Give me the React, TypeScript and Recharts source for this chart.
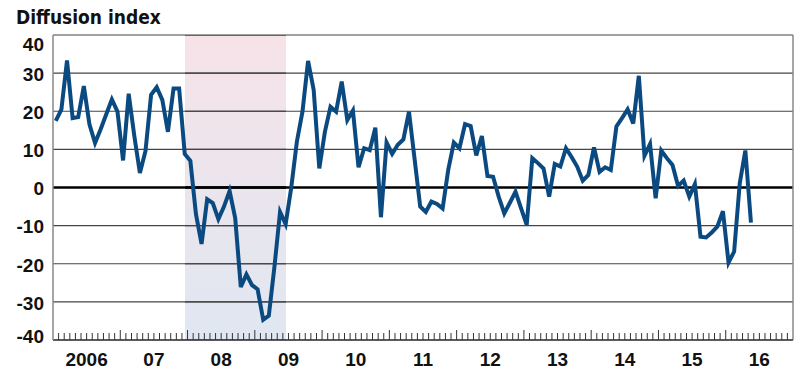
import {
  LineChart,
  Line,
  XAxis,
  YAxis,
  CartesianGrid,
  ReferenceLine,
} from "recharts";

// Monthly diffusion index, Jan 2006 onward
const startYear = 2006;
const values = [
  17.5, 20.5, 33.3, 18.2, 18.5, 26.6, 16.6, 11.7, 15.3, 19.2, 23.1, 19.9,
  7.1, 24.6, 13.6, 3.8, 9.6, 24.3, 26.3, 23, 14.6, 26, 26, 8.8,
  7, -7, -14.8, -3.1, -4.1, -8.3, -5, -0.9, -8, -26.1, -22.8, -25.6,
  -26.7, -34.7, -33.6, -20.8, -6.4, -9.6, 0, 12, 19.9, 33.2, 25.6, 5,
  14.6, 21.2, 19.9, 27.8, 17.7, 20.2, 5.3, 10.3, 9.8, 15.7, -7.8, 11.8,
  8.8, 11.2, 12.6, 19.9, 7.5, -5, -6.4, -3.7, -4.3, -5.5, 4.6, 11.8,
  10.3, 16.6, 16.1, 8.4, 13.5, 3, 2.8, -2.4, -6.8, -4, -1.1, -5.5,
  -9.8, 7.7, 6.4, 5, -2.4, 6.2, 5.5, 10.3, 8, 5.5, 1.8, 3.3,
  10.5, 4.1, 5.3, 4.6, 16, 18.2, 20.5, 16.8, 29.3, 8.3, 11.4, -2.8,
  9.7, 7.7, 5.9, 0.4, 1.8, -2.4, 0.9, -12.9, -13.1, -11.8, -10.3, -6.2,
  -19.7, -16.8, 1.1, 9.7, -9.2,
];
const yearLabels = ["2006", "07", "08", "09", "10", "11", "12", "13", "14", "15", "16"];
const yTicks = [-40, -30, -20, -10, 0, 10, 20, 30, 40];
const recession = { start: "2007-12", end: "2009-06" };

const monthIndex = (ym: string) => {
  const [y, m] = ym.split("-").map(Number);
  return (y - startYear) * 12 + (m - 1);
};

const totalMonths = yearLabels.length * 12;
const data = values.map((v, i) => ({ t: i + 0.5, value: v }));
const monthTicks = Array.from({ length: totalMonths + 1 }, (_, i) => i);

const tickFont = "'Liberation Sans', Arial, sans-serif";
const gridColor = "#444";
const plotHeight = 305;
const yMin = yTicks[0];
const yMax = yTicks[yTicks.length - 1];

const XTick = (props: any) => {
  const { x, y, payload } = props;
  const v = payload.value as number;
  const isYear = v % 12 === 0;
  const isMid = v % 12 === 6;
  const label = isMid ? yearLabels[Math.floor(v / 12)] : null;
  return (
    <g>
      {v > 0 && v < totalMonths && (
        <line x1={x} y1={y} x2={x} y2={y - (isYear ? 10 : 7)} stroke="#333" strokeWidth={1} />
      )}
      {label && (
        <text x={x} y={y + 26} textAnchor="middle" fontFamily={tickFont} fontWeight="bold" fontSize={19} fill="#111">
          {label}
        </text>
      )}
    </g>
  );
};

const YTick = (props: any) => {
  const { x, y, payload } = props;
  const v = payload.value as number;
  const shift = v === 40 ? 9 : v === -40 ? -4 : 1;
  return (
    <text x={x} y={y + shift} dy="0.36em" textAnchor="end" fontFamily={tickFont} fontWeight="bold" fontSize={19} fill="#111">
      {v}
    </text>
  );
};

// recession band edges in pixels, from the plot box and the x domain
const recessionEdges = (args: any) => {
  const { xAxis, offset } = args;
  const toPx = (v: number) => {
    if (xAxis && typeof xAxis.scale === "function") return xAxis.scale(v);
    if (xAxis && xAxis.scale && typeof xAxis.scale.map === "function") return xAxis.scale.map(v);
    return offset.left + (offset.width * v) / totalMonths;
  };
  return [toPx(monthIndex(recession.start) + 0.5), toPx(monthIndex(recession.end) + 0.5)];
};

export default function App() {
  return (
    <div style={{ position: "absolute", left: 0, top: 0, width: 810, height: 381, background: "#fff" }}>
      <LineChart width={810} height={381} data={data} margin={{ top: 35, right: 17, bottom: 0, left: 0 }}>
        <defs>
          <linearGradient id="recessionFill" x1="0" y1="0" x2="0" y2="1">
            <stop offset="0%" stopColor="#f6e3e8" />
            <stop offset="100%" stopColor="#e0e7f2" />
          </linearGradient>
          {/* band fill carries its own copy of the grid so the lines stay visible */}
          <pattern
            id="recessionPattern"
            patternUnits="objectBoundingBox"
            patternContentUnits="objectBoundingBox"
            width="1"
            height="1"
          >
            <rect x="0" y="0" width="1" height="1" fill="url(#recessionFill)" />
            {yTicks.map((t) => {
              const th = (t === 0 ? 2.5 : 1.2) / plotHeight;
              const fy = (yMax - t) / (yMax - yMin);
              return (
                <rect
                  key={t}
                  x="0"
                  y={fy - th / 2}
                  width="1"
                  height={th}
                  fill={t === 0 ? "#000" : gridColor}
                />
              );
            })}
          </pattern>
        </defs>
        <CartesianGrid
          horizontal={false}
          stroke="none"
          verticalCoordinatesGenerator={recessionEdges}
          verticalFill={["none", "url(#recessionPattern)", "none"]}
          fillOpacity={1}
        />
        <CartesianGrid vertical={false} stroke={gridColor} strokeWidth={1.2} />
        <ReferenceLine y={0} stroke="#000" strokeWidth={2.5} />
        <ReferenceLine x={totalMonths} stroke="#888" strokeWidth={1.5} />
        <XAxis
          dataKey="t"
          type="number"
          domain={[0, totalMonths]}
          ticks={monthTicks}
          interval={0}
          height={41}
          tickSize={0}
          tickMargin={0}
          tickLine={false}
          axisLine={{ stroke: "#444", strokeWidth: 1.5 }}
          tick={<XTick />}
        />
        <YAxis
          type="number"
          domain={[yMin, yMax]}
          ticks={yTicks}
          interval={0}
          width={53}
          tickSize={0}
          tickMargin={9}
          tickLine={false}
          axisLine={{ stroke: "#888", strokeWidth: 1.5 }}
          tick={<YTick />}
        />
        <Line
          type="linear"
          dataKey="value"
          stroke="#0b4a80"
          strokeWidth={4}
          dot={false}
          isAnimationActive={false}
        />
      </LineChart>
      <div
        style={{
          position: "absolute",
          left: 16,
          top: 8,
          fontFamily: "'Liberation Sans Narrow', 'DejaVu Sans Condensed', Arial, sans-serif",
          fontWeight: "bold",
          fontSize: 19,
          lineHeight: "19px",
          color: "#111",
          whiteSpace: "nowrap",
        }}
      >
        Diffusion index
      </div>
    </div>
  );
}
